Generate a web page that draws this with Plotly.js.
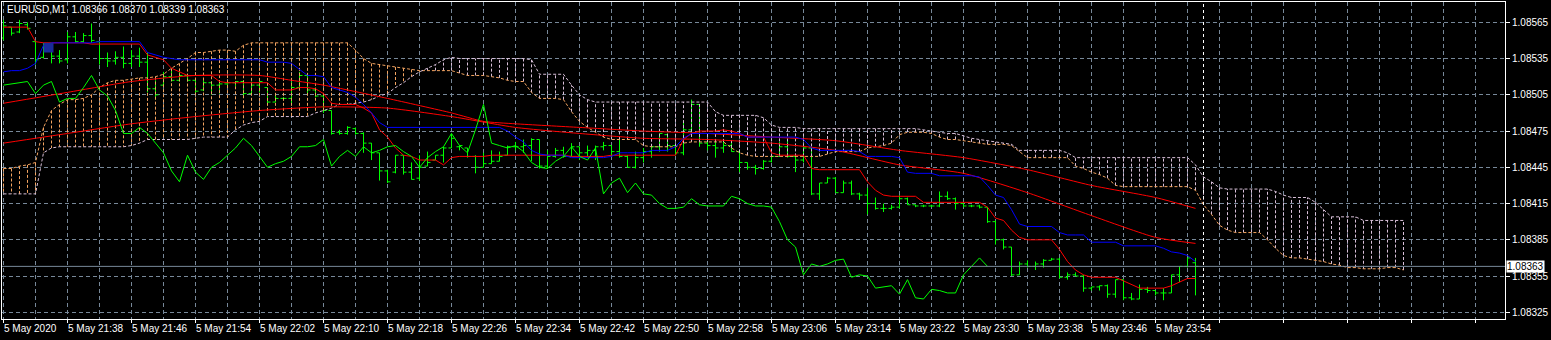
<!DOCTYPE html>
<html><head><meta charset="utf-8">
<script src="https://cdn.plot.ly/plotly-3.0.1.min.js"></script>
<style>html,body{margin:0;padding:0;background:#000;}#chart{width:1551px;height:340px;}</style>
</head><body><div id="chart"></div>
<script>
const symbol = "EURUSD,M1";
const timeLabels = ["5 May 2020","5 May 21:38","5 May 21:46","5 May 21:54","5 May 22:02","5 May 22:10","5 May 22:18","5 May 22:26","5 May 22:34","5 May 22:42","5 May 22:50","5 May 22:58","5 May 23:06","5 May 23:14","5 May 23:22","5 May 23:30","5 May 23:38","5 May 23:46","5 May 23:54"];
const timeLabelBars = [0,8,16,24,32,40,48,56,64,72,80,88,96,104,112,120,128,136,144];
const priceTicks = [1.08325,1.08355,1.08385,1.08415,1.08445,1.08475,1.08505,1.08535,1.08565];

const open = [
1.08552,1.08561,1.08557,1.08563,1.08549,1.08536,1.08543,1.08537,1.08534,1.08553,
1.08549,1.08554,1.08549,1.08535,1.08533,1.08536,1.08531,1.08537,1.08532,1.08510,
1.08513,1.08520,1.08517,1.08521,1.08517,1.08509,1.08515,1.08513,1.08514,1.08515,
1.08516,1.08506,1.08513,1.08511,1.08499,1.08502,1.08502,1.08511,1.08521,1.08509,
1.08504,1.08492,1.08474,1.08473,1.08477,1.08473,1.08465,1.08457,1.08442,1.08441,
1.08455,1.08441,1.08436,1.08446,1.08451,1.08455,1.08461,1.08462,1.08461,1.08454,
1.08445,1.08448,1.08450,1.08455,1.08462,1.08462,1.08463,1.08468,1.08446,1.08454,
1.08459,1.08454,1.08462,1.08457,1.08459,1.08462,1.08463,1.08458,1.08454,1.08445,
1.08453,1.08458,1.08462,1.08472,1.08463,1.08457,1.08476,1.08497,1.08465,1.08463,
1.08461,1.08463,1.08458,1.08449,1.08445,1.08444,1.08450,1.08454,1.08462,1.08454,
1.08451,1.08461,1.08423,1.08432,1.08436,1.08424,1.08432,1.08423,1.08422,1.08415,
1.08411,1.08411,1.08412,1.08419,1.08414,1.08413,1.08413,1.08413,1.08421,1.08419,
1.08415,1.08413,1.08413,1.08412,1.08400,1.08385,1.08379,1.08356,1.08365,1.08363,
1.08365,1.08368,1.08369,1.08354,1.08356,1.08355,1.08345,1.08346,1.08347,1.08340,
1.08352,1.08337,1.08336,1.08344,1.08343,1.08341,1.08341,1.08356,1.08363,1.08366];
const high = [
1.08567,1.08561,1.08567,1.08565,1.08550,1.08548,1.08543,1.08542,1.08557,1.08557,
1.08556,1.08564,1.08549,1.08540,1.08541,1.08545,1.08542,1.08544,1.08540,1.08517,
1.08524,1.08526,1.08524,1.08521,1.08517,1.08517,1.08516,1.08515,1.08515,1.08516,
1.08517,1.08516,1.08516,1.08511,1.08505,1.08503,1.08516,1.08524,1.08521,1.08511,
1.08506,1.08492,1.08476,1.08479,1.08478,1.08474,1.08465,1.08457,1.08443,1.08455,
1.08455,1.08449,1.08455,1.08458,1.08455,1.08462,1.08473,1.08463,1.08461,1.08455,
1.08457,1.08459,1.08458,1.08463,1.08466,1.08468,1.08469,1.08468,1.08459,1.08461,
1.08462,1.08465,1.08462,1.08463,1.08463,1.08466,1.08463,1.08468,1.08455,1.08458,
1.08461,1.08462,1.08473,1.08473,1.08463,1.08484,1.08501,1.08497,1.08468,1.08466,
1.08468,1.08466,1.08459,1.08449,1.08447,1.08451,1.08455,1.08466,1.08468,1.08455,
1.08462,1.08462,1.08432,1.08437,1.08437,1.08434,1.08434,1.08424,1.08428,1.08420,
1.08415,1.08414,1.08422,1.08420,1.08414,1.08414,1.08414,1.08425,1.08425,1.08420,
1.08415,1.08414,1.08414,1.08412,1.08401,1.08386,1.08379,1.08367,1.08368,1.08367,
1.08369,1.08370,1.08370,1.08358,1.08358,1.08356,1.08346,1.08347,1.08348,1.08352,
1.08352,1.08341,1.08348,1.08346,1.08343,1.08345,1.08356,1.08363,1.08370,1.08370];
const low = [
1.08550,1.08554,1.08556,1.08559,1.08530,1.08535,1.08531,1.08531,1.08531,1.08548,
1.08548,1.08548,1.08530,1.08528,1.08530,1.08527,1.08528,1.08528,1.08507,1.08501,
1.08513,1.08516,1.08516,1.08516,1.08505,1.08508,1.08505,1.08506,1.08512,1.08512,
1.08503,1.08506,1.08507,1.08497,1.08499,1.08501,1.08497,1.08509,1.08506,1.08503,
1.08490,1.08472,1.08472,1.08472,1.08472,1.08457,1.08451,1.08434,1.08432,1.08440,
1.08439,1.08435,1.08434,1.08446,1.08451,1.08449,1.08461,1.08459,1.08453,1.08440,
1.08445,1.08448,1.08450,1.08455,1.08459,1.08457,1.08450,1.08444,1.08444,1.08453,
1.08453,1.08454,1.08451,1.08453,1.08451,1.08459,1.08454,1.08453,1.08445,1.08444,
1.08449,1.08453,1.08458,1.08458,1.08455,1.08455,1.08470,1.08462,1.08459,1.08453,
1.08457,1.08458,1.08441,1.08443,1.08439,1.08443,1.08449,1.08454,1.08453,1.08441,
1.08449,1.08422,1.08418,1.08432,1.08424,1.08424,1.08422,1.08418,1.08406,1.08410,
1.08408,1.08410,1.08411,1.08414,1.08412,1.08412,1.08412,1.08412,1.08418,1.08410,
1.08412,1.08412,1.08411,1.08399,1.08381,1.08377,1.08355,1.08356,1.08362,1.08360,
1.08362,1.08368,1.08353,1.08352,1.08355,1.08342,1.08343,1.08343,1.08337,1.08337,
1.08335,1.08335,1.08336,1.08341,1.08339,1.08335,1.08341,1.08350,1.08362,1.08339];
const close = [
1.08562,1.08556,1.08564,1.08560,1.08534,1.08546,1.08537,1.08533,1.08553,1.08549,
1.08554,1.08550,1.08535,1.08533,1.08536,1.08531,1.08537,1.08532,1.08510,1.08505,
1.08520,1.08517,1.08521,1.08517,1.08508,1.08515,1.08513,1.08514,1.08515,1.08516,
1.08506,1.08513,1.08516,1.08499,1.08502,1.08502,1.08511,1.08521,1.08509,1.08504,
1.08492,1.08473,1.08473,1.08478,1.08473,1.08465,1.08457,1.08442,1.08433,1.08455,
1.08441,1.08435,1.08445,1.08449,1.08455,1.08461,1.08469,1.08463,1.08454,1.08445,
1.08448,1.08450,1.08454,1.08462,1.08462,1.08463,1.08468,1.08446,1.08454,1.08459,
1.08454,1.08462,1.08457,1.08459,1.08462,1.08463,1.08458,1.08454,1.08445,1.08453,
1.08458,1.08462,1.08473,1.08463,1.08457,1.08476,1.08497,1.08465,1.08463,1.08461,
1.08463,1.08458,1.08449,1.08445,1.08444,1.08450,1.08454,1.08462,1.08454,1.08451,
1.08461,1.08423,1.08432,1.08436,1.08424,1.08432,1.08423,1.08422,1.08415,1.08411,
1.08411,1.08412,1.08419,1.08414,1.08413,1.08413,1.08413,1.08421,1.08419,1.08415,
1.08413,1.08413,1.08412,1.08400,1.08385,1.08379,1.08356,1.08365,1.08363,1.08365,
1.08368,1.08369,1.08354,1.08356,1.08355,1.08345,1.08346,1.08347,1.08340,1.08352,
1.08337,1.08336,1.08344,1.08343,1.08341,1.08341,1.08356,1.08363,1.08370,1.08363];

const tenkan = [
1.08561,1.08561,1.08561,1.08561,1.08549,1.08548,1.08548,1.08548,1.08548,1.08548,
1.08548,1.08547,1.08547,1.08547,1.08547,1.08547,1.08547,1.08547,1.08538,1.08536,
1.08534,1.08527,1.08524,1.08521,1.08521,1.08521,1.08521,1.08516,1.08515,1.08515,
1.08515,1.08515,1.08515,1.08515,1.08509,1.08509,1.08509,1.08511,1.08511,1.08510,
1.08506,1.08498,1.08497,1.08497,1.08497,1.08494,1.08490,1.08476,1.08470,1.08461,
1.08455,1.08454,1.08451,1.08451,1.08451,1.08447,1.08453,1.08454,1.08454,1.08454,
1.08454,1.08455,1.08455,1.08455,1.08455,1.08455,1.08455,1.08455,1.08455,1.08455,
1.08455,1.08454,1.08454,1.08454,1.08454,1.08454,1.08455,1.08455,1.08455,1.08455,
1.08455,1.08455,1.08455,1.08455,1.08455,1.08468,1.08473,1.08475,1.08475,1.08475,
1.08476,1.08475,1.08473,1.08470,1.08470,1.08470,1.08457,1.08455,1.08455,1.08455,
1.08455,1.08444,1.08443,1.08443,1.08443,1.08443,1.08443,1.08443,1.08433,1.08426,
1.08422,1.08421,1.08421,1.08421,1.08421,1.08416,1.08416,1.08416,1.08416,1.08416,
1.08416,1.08416,1.08416,1.08412,1.08403,1.08401,1.08393,1.08387,1.08385,1.08385,
1.08385,1.08385,1.08377,1.08367,1.08360,1.08356,1.08354,1.08354,1.08354,1.08354,
1.08351,1.08348,1.08345,1.08345,1.08345,1.08345,1.08347,1.08350,1.08353,1.08353];
const kijun = [
1.08524,1.08525,1.08525,1.08527,1.08531,1.08546,1.08548,1.08548,1.08548,1.08548,
1.08548,1.08548,1.08549,1.08549,1.08549,1.08549,1.08549,1.08549,1.08540,1.08538,
1.08536,1.08535,1.08534,1.08534,1.08534,1.08534,1.08534,1.08534,1.08534,1.08534,
1.08534,1.08534,1.08534,1.08532,1.08532,1.08532,1.08531,1.08526,1.08521,1.08521,
1.08520,1.08511,1.08509,1.08507,1.08503,1.08497,1.08490,1.08482,1.08478,1.08478,
1.08478,1.08478,1.08478,1.08478,1.08478,1.08478,1.08478,1.08478,1.08478,1.08478,
1.08478,1.08478,1.08478,1.08475,1.08470,1.08466,1.08459,1.08456,1.08455,1.08455,
1.08455,1.08453,1.08453,1.08453,1.08453,1.08453,1.08454,1.08457,1.08457,1.08457,
1.08457,1.08459,1.08459,1.08459,1.08462,1.08469,1.08473,1.08473,1.08473,1.08473,
1.08473,1.08473,1.08473,1.08470,1.08470,1.08470,1.08470,1.08470,1.08470,1.08470,
1.08468,1.08461,1.08459,1.08459,1.08459,1.08459,1.08459,1.08458,1.08454,1.08454,
1.08454,1.08454,1.08453,1.08441,1.08440,1.08440,1.08440,1.08438,1.08438,1.08438,
1.08438,1.08438,1.08437,1.08430,1.08422,1.08420,1.08410,1.08398,1.08396,1.08396,
1.08396,1.08396,1.08391,1.08389,1.08389,1.08389,1.08383,1.08383,1.08383,1.08383,
1.08380,1.08380,1.08380,1.08380,1.08380,1.08378,1.08375,1.08374,1.08372,1.08367];

// Senkou spans, plotted 26 bars ahead (index 0 = first visible bar)
const spanA = [
1.08444,1.08444,1.08446,1.08447,1.08449,1.08478,1.08492,1.08497,1.08501,1.08501,
1.08502,1.08505,1.08511,1.08515,1.08517,1.08517,1.08518,1.08519,1.08519,1.08520,
1.08522,1.08527,1.08531,1.08535,1.08540,1.08540,1.08541,1.08542,1.08542,1.08541,
1.08546,1.08548,1.08548,1.08548,1.08548,1.08548,1.08548,1.08548,1.08548,1.08548,
1.08548,1.08548,1.08548,1.08548,1.08542,1.08535,1.08531,1.08530,1.08529,1.08528,
1.08527,1.08526,1.08525,1.08525,1.08525,1.08525,1.08525,1.08523,1.08521,1.08521,
1.08521,1.08520,1.08519,1.08517,1.08516,1.08516,1.08507,1.08502,1.08502,1.08502,
1.08501,1.08491,1.08483,1.08478,1.08474,1.08470,1.08468,1.08468,1.08468,1.08468,
1.08463,1.08462,1.08462,1.08462,1.08462,1.08465,1.08466,1.08466,1.08466,1.08466,
1.08466,1.08461,1.08457,1.08455,1.08454,1.08454,1.08454,1.08454,1.08454,1.08454,
1.08454,1.08454,1.08454,1.08456,1.08458,1.08458,1.08458,1.08458,1.08461,1.08462,
1.08463,1.08465,1.08472,1.08474,1.08474,1.08474,1.08473,1.08470,1.08468,1.08468,
1.08467,1.08466,1.08465,1.08464,1.08464,1.08464,1.08463,1.08458,1.08453,1.08453,
1.08453,1.08453,1.08453,1.08453,1.08446,1.08444,1.08441,1.08439,1.08436,1.08430,
1.08429,1.08429,1.08429,1.08429,1.08429,1.08429,1.08429,1.08429,1.08429,1.08426,
1.08414,1.08406,1.08397,1.08393,1.08391,1.08391,1.08391,1.08391,1.08385,1.08378,
1.08372,1.08370,1.08370,1.08369,1.08368,1.08367,1.08365,1.08364,1.08362,1.08362,
1.08361,1.08361,1.08361,1.08362,1.08362,1.08360];
const spanB = [
1.08423,1.08423,1.08423,1.08423,1.08423,1.08457,1.08461,1.08462,1.08462,1.08462,
1.08462,1.08462,1.08462,1.08462,1.08462,1.08462,1.08463,1.08465,1.08468,1.08468,
1.08468,1.08468,1.08468,1.08468,1.08469,1.08470,1.08470,1.08470,1.08470,1.08476,
1.08480,1.08482,1.08483,1.08487,1.08487,1.08487,1.08487,1.08487,1.08487,1.08490,
1.08492,1.08494,1.08497,1.08497,1.08498,1.08499,1.08501,1.08504,1.08506,1.08511,
1.08515,1.08520,1.08524,1.08527,1.08530,1.08534,1.08536,1.08535,1.08535,1.08535,
1.08535,1.08535,1.08535,1.08535,1.08535,1.08535,1.08534,1.08522,1.08522,1.08522,
1.08522,1.08513,1.08505,1.08501,1.08499,1.08499,1.08499,1.08499,1.08499,1.08499,
1.08499,1.08499,1.08499,1.08499,1.08499,1.08499,1.08499,1.08499,1.08499,1.08491,
1.08488,1.08488,1.08488,1.08488,1.08488,1.08486,1.08480,1.08478,1.08478,1.08478,
1.08477,1.08477,1.08477,1.08477,1.08477,1.08477,1.08477,1.08477,1.08477,1.08477,
1.08477,1.08477,1.08477,1.08477,1.08477,1.08476,1.08475,1.08474,1.08473,1.08473,
1.08471,1.08469,1.08468,1.08467,1.08466,1.08465,1.08464,1.08459,1.08459,1.08459,
1.08459,1.08459,1.08459,1.08457,1.08453,1.08453,1.08453,1.08453,1.08453,1.08453,
1.08453,1.08453,1.08453,1.08453,1.08453,1.08453,1.08453,1.08453,1.08453,1.08447,
1.08437,1.08433,1.08428,1.08427,1.08427,1.08427,1.08427,1.08427,1.08427,1.08425,
1.08422,1.08420,1.08420,1.08420,1.08416,1.08410,1.08404,1.08404,1.08404,1.08404,
1.08401,1.08401,1.08401,1.08401,1.08401,1.08401];

// Two moving averages, read at sample bars
const ma1Bars = [0,8,16,24,32,36,40,48,56,60,64,72,80,88,96,104,112,120,128,136,144,149];
const ma1 = [1.08498,1.08507,1.08516,1.08521,1.08521,1.08517,1.08513,1.08502,1.08490,1.08483,1.08481,1.08478,1.08475,1.08473,1.08470,1.08467,1.08459,1.08453,1.08443,1.08430,1.08420,1.08411];
const ma2Bars = [0,8,16,24,32,40,48,56,64,72,80,88,96,104,112,120,128,136,144,149];
const ma2 = [1.08465,1.08473,1.08481,1.08487,1.08492,1.08495,1.08494,1.08487,1.08478,1.08473,1.08469,1.08468,1.08465,1.08459,1.08447,1.08440,1.08424,1.08405,1.08387,1.08382];

// small rectangle object
const boxBars = [5, 6.25];
const boxPrices = [1.08540, 1.08548];
const chikouShift = 26;

const FONT = "Tahoma, 'Liberation Sans', Arial, sans-serif";
const GRID = '#778899';
const N = close.length;
const barIdx = close.map((_, i) => i);
const cloudIdx = spanA.map((_, k) => k);

const hUp = {x: [], y: []}, hDn = {x: [], y: []};
spanA.forEach((a, k) => {
  const b = spanB[k];
  if (a === b) return;
  const t = a > b ? hUp : hDn;
  t.x.push(k, k, null); t.y.push(a, b, null);
});

const chX = barIdx.slice(chikouShift).map(i => i - chikouShift);
const chY = close.slice(chikouShift);

const traces = [
  {type: 'ohlc', x: barIdx, open: open, high: high, low: low, close: close,
   increasing: {line: {color: '#00FF00', width: 1}}, decreasing: {line: {color: '#00FF00', width: 1}},
   tickwidth: 0.375, hoverinfo: 'skip', showlegend: false},
  {type: 'scatter', mode: 'lines', x: hUp.x, y: hUp.y, connectgaps: false,
   line: {color: '#F4A460', width: 1, dash: '3px,2px'}, hoverinfo: 'skip'},
  {type: 'scatter', mode: 'lines', x: hDn.x, y: hDn.y, connectgaps: false,
   line: {color: '#D8BFD8', width: 1, dash: '3px,2px'}, hoverinfo: 'skip'},
  {type: 'scatter', mode: 'lines', x: cloudIdx, y: spanA, line: {color: '#F4A460', width: 1, dash: '3px,2px'}, hoverinfo: 'skip'},
  {type: 'scatter', mode: 'lines', x: cloudIdx, y: spanB, line: {color: '#D8BFD8', width: 1, dash: '3px,2px'}, hoverinfo: 'skip'},
  {type: 'scatter', mode: 'lines', x: ma1Bars, y: ma1, line: {color: '#FF0000', width: 1, shape: 'spline', smoothing: 0.6}, hoverinfo: 'skip'},
  {type: 'scatter', mode: 'lines', x: ma2Bars, y: ma2, line: {color: '#FF0000', width: 1, shape: 'spline', smoothing: 0.6}, hoverinfo: 'skip'},
  {type: 'scatter', mode: 'lines', x: barIdx, y: tenkan, line: {color: '#FF0000', width: 1}, hoverinfo: 'skip'},
  {type: 'scatter', mode: 'lines', x: barIdx, y: kijun, line: {color: '#0000FF', width: 1}, hoverinfo: 'skip'},
  {type: 'scatter', mode: 'lines', x: chX, y: chY, line: {color: '#00FF00', width: 1}, hoverinfo: 'skip'}
];

const last = N - 1;
const fmt = v => v.toFixed(5);
const bid = close[last];

const annotations = timeLabels.map((t, j) => ({
  xref: 'x', yref: 'paper', x: timeLabelBars[j], y: -0.031, xanchor: 'left', yanchor: 'middle',
  xshift: -2, text: t, showarrow: false, font: {color: '#FFFFFF', size: 10, family: FONT}
}));
annotations.push({
  xref: 'paper', yref: 'paper', x: 0, y: 0.975, xanchor: 'left', yanchor: 'middle', xshift: 3,
  text: symbol + '\u00a0\u00a0' + [open[last], high[last], low[last], close[last]].map(fmt).join(' '),
  showarrow: false, font: {color: '#FFFFFF', size: 10, family: FONT}
});
annotations.push({
  xref: 'paper', yref: 'y', x: 1, y: bid, xanchor: 'left', yanchor: 'middle', xshift: 1,
  text: fmt(bid), showarrow: false, bgcolor: '#FFFFFF', borderpad: 0,
  font: {color: '#000000', size: 10, family: FONT}
});

const layout = {
  width: 1551, height: 340,
  margin: {l: 2, r: 46, t: 2, b: 21, pad: 0, autoexpand: false},
  paper_bgcolor: '#000000', plot_bgcolor: '#000000',
  showlegend: false, hovermode: false,
  xaxis: {
    range: [-0.1875, 187.6875], tickmode: 'linear', tick0: 0, dtick: 8,
    ticks: 'outside', ticklen: 3, tickcolor: '#FFFFFF', showticklabels: false,
    showgrid: true, gridcolor: GRID, griddash: '4px,3px', gridwidth: 1,
    minor: {tick0: 0, dtick: 4, showgrid: true, gridcolor: GRID, griddash: '4px,3px', gridwidth: 1, ticks: ''},
    showline: true, linecolor: '#FFFFFF', linewidth: 1, mirror: true, zeroline: false,
    rangeslider: {visible: false}, fixedrange: true
  },
  yaxis: {
    range: [1.0831945, 1.0858180], side: 'right', tickmode: 'array',
    tickvals: priceTicks, ticktext: priceTicks.map(fmt),
    ticks: 'outside', ticklen: 4, tickcolor: '#FFFFFF',
    tickfont: {color: '#FFFFFF', size: 10, family: FONT},
    showgrid: true, gridcolor: GRID, griddash: '4px,3px', gridwidth: 1,
    showline: true, linecolor: '#FFFFFF', linewidth: 1, mirror: true, zeroline: false, fixedrange: true
  },
  shapes: [
    {type: 'line', xref: 'paper', x0: 0, x1: 1, yref: 'y', y0: bid, y1: bid, line: {color: GRID, width: 1}},
    {type: 'line', xref: 'x', x0: N, x1: N, yref: 'paper', y0: 0, y1: 1, line: {color: '#FFFFFF', width: 1, dash: '3px,3px'}},
    {type: 'rect', xref: 'x', yref: 'y', x0: boxBars[0], x1: boxBars[1], y0: boxPrices[0], y1: boxPrices[1],
     fillcolor: '#1a2a9a', line: {width: 0}}
  ],
  annotations: annotations
};

Plotly.newPlot('chart', traces, layout, {staticPlot: true, displayModeBar: false});
</script>
</body></html>
